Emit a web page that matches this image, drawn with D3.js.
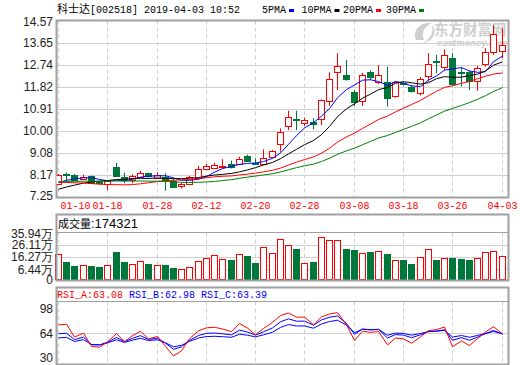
<!DOCTYPE html>
<html>
<head>
<meta charset="utf-8">
<script src="https://cdn.jsdelivr.net/npm/d3@7/dist/d3.min.js"></script>
<style>
body{margin:0;background:#fff}
svg{display:block}
</style>
</head>
<body>
<svg id="chart" width="520" height="365"></svg>
<script>
// trading days 2019-01-10 .. 2019-04-03
var dates = ["01-10","01-11","01-14","01-15","01-16","01-17","01-18","01-21","01-22","01-23",
	"01-24","01-25","01-28","01-29","01-30","01-31","02-01","02-11","02-12","02-13",
	"02-14","02-15","02-18","02-19","02-20","02-21","02-22","02-25","02-26","02-27",
	"02-28","03-01","03-04","03-05","03-06","03-07","03-08","03-11","03-12","03-13",
	"03-14","03-15","03-18","03-19","03-20","03-21","03-22","03-25","03-26","03-27",
	"03-28","03-29","04-01","04-02","04-03"];

var opens = [7.78,8.21,8.18,8.00,8.12,7.86,7.78,8.51,8.09,7.96,
	8.09,8.23,8.07,8.09,7.93,7.71,7.78,8.03,8.41,8.47,
	8.53,8.62,8.63,8.95,8.68,8.62,8.92,9.45,10.20,10.50,
	10.35,10.38,10.48,11.21,12.44,12.33,11.62,11.20,12.43,12.04,
	12.04,11.41,12.00,11.83,11.56,12.25,12.90,12.64,13.01,12.43,
	12.42,12.07,12.77,13.28,13.33];
var highs = [8.20,8.27,8.20,8.18,8.14,7.92,7.93,8.67,8.26,8.19,
	8.34,8.26,8.28,8.23,8.01,7.84,8.12,8.55,8.62,8.67,
	8.82,8.76,8.92,9.01,8.85,9.23,9.20,10.10,10.83,10.83,
	10.55,10.52,11.30,12.43,13.22,12.94,11.70,12.40,12.50,12.73,
	12.66,12.05,12.02,11.90,12.23,13.22,13.15,13.38,13.22,12.62,
	12.50,12.70,13.43,14.39,14.25];
var lows = [7.76,7.90,7.97,7.95,7.80,7.76,7.54,8.09,7.82,7.82,
	8.07,8.05,8.05,7.51,7.62,7.61,7.76,8.00,8.37,8.44,
	8.44,8.44,8.59,8.72,8.58,8.60,8.90,9.13,10.03,10.03,
	10.20,10.06,10.24,11.03,11.69,12.08,11.03,11.03,12.10,11.94,
	11.00,11.38,11.87,11.58,11.47,12.04,12.39,12.50,11.86,11.83,
	11.69,11.66,12.66,13.15,13.01];
var closes = [8.16,8.19,7.99,8.10,7.82,7.80,7.91,8.12,7.96,8.12,
	8.26,8.12,8.18,7.98,7.68,7.78,8.09,8.40,8.55,8.58,
	8.55,8.51,8.83,8.76,8.65,8.86,9.17,9.94,10.56,10.45,
	10.46,10.28,11.28,12.14,12.69,12.17,11.21,12.30,12.22,12.32,
	11.39,12.01,11.95,11.66,12.14,12.76,12.87,13.15,11.94,12.40,
	12.04,12.60,13.28,14.02,13.56];
// volume, in 万 shares
var volumes = [18.4,12.3,9.1,9.6,9.1,8.3,9.6,20.3,12.3,10.7,
	12.8,10.7,9.6,9.6,7.5,6.5,8.1,12.8,15.2,17.6,
	14.4,13.9,18.4,17.1,11.7,24.0,19.2,30.4,25.6,22.6,
	11.5,12.3,32.0,29.6,29.6,22.6,21.8,19.2,20.3,20.8,
	18.7,13.6,13.9,10.7,16.0,22.4,13.9,15.2,15.5,14.7,
	13.9,15.2,20.0,20.8,17.4321];
// closes before 01-10, only used to warm up the averages
var priorCloses = [7.95,7.95,7.90,7.85,7.80,7.85,7.90,8.00,8.10,8.20,
	8.30,8.30,8.25,8.30,8.30,8.25,8.20,8.10,7.90,7.60,
	7.25,7.20,7.25,7.35,7.45,7.67,7.72,7.85,7.80];

var priceTicks = [7.25,8.17,9.08,10.00,10.91,11.82,12.74,13.65,14.57];
var volTicks = [6.44,16.27,26.11,35.94];
var rsiTicks = [30,64,98];
var dateTicks = ["01-10","01-18","01-28","02-12","02-20","02-28","03-08","03-18","03-26","04-03"];
var rsiLast = [63.08,62.98,63.39];

var maDefs = [{n:5,name:"5PMA",color:"#0000ff"},{n:10,name:"10PMA",color:"#000000"},
	{n:20,name:"20PMA",color:"#ff0000"},{n:30,name:"30PMA",color:"#008000"}];

var UP = "#ff0000", DOWN = "#00773a", GRID = "#d0d0d0", BORDER = "#a0a0a0";
var L = 56.5, R = 508.5;

var svg = d3.select("#chart");
var n = closes.length;
var all = priorCloses.concat(closes);
var off = priorCloses.length;

var x = d3.scaleBand().domain(d3.range(n)).range([53.9, 505.8]);
function cx(i){ return Math.round(x(i) + x.bandwidth()/2) + 0.5; }

var yP = d3.scaleLinear().domain([7.25, 14.57]).range([197, 20.7]);
var yV = d3.scaleLinear().domain([0, 35.94]).range([277.5, 232.3]);
var yR = d3.scaleLinear().domain([30, 98]).range([357.6, 309]);

function movingAvg(len)
{
	return closes.map(function(c, i)
	{
		var k = off + i;
		return d3.mean(all.slice(k - len + 1, k + 1));
	});
}

function rsi(len)
{
	var up = null, tot = null, out = [];
	for (var k = 1; k < all.length; k++)
	{
		var d = all[k] - all[k-1];
		up = up === null ? Math.max(d,0) : (Math.max(d,0) + (len-1)*up)/len;
		tot = tot === null ? Math.abs(d) : (Math.abs(d) + (len-1)*tot)/len;
		if (k >= off) out.push(tot ? up/tot*100 : 50);
	}
	return out;
}

var tickIdx = dateTicks.map(function(d){ return dates.indexOf(d); });

function clip(id, y0, y1)
{
	svg.append("clipPath").attr("id", id).append("rect")
		.attr("x", L).attr("y", y0).attr("width", R - L).attr("height", y1 - y0);
}

function vgrid(g, y0, y1)
{
	g.selectAll("line.vg").data(tickIdx).enter().append("line").classed("vg",1)
		.attr("x1", function(d){ return cx(d); }).attr("x2", function(d){ return cx(d); })
		.attr("y1", y0).attr("y2", y1)
		.attr("stroke", GRID).attr("stroke-dasharray", "4,3");
}

function hline(g, y, color)
{
	g.append("line").attr("x1", L).attr("x2", R).attr("y1", y).attr("y2", y).attr("stroke", color);
}

function axisText(g, y, txt)
{
	g.append("text").attr("x", 53).attr("y", y).attr("dy", "0.35em")
		.attr("text-anchor", "end").attr("font-family", "Liberation Sans, Arial, sans-serif")
		.attr("font-size", "12px").attr("fill", "#222").text(txt);
}

// ---------- title + legend ----------
var title = svg.append("text").attr("x", 57).attr("y", 13).attr("fill", "#000");
title.append("tspan").attr("font-family", "Noto Sans CJK SC").attr("font-size", "11px").text("科士达");
title.append("tspan").attr("font-family", "Liberation Mono").attr("font-size", "10px").text("[002518] 2019-04-03 10:52");

var lx = [262, 301.5, 343, 386];
maDefs.forEach(function(m, i)
{
	var t = svg.append("text").attr("x", lx[i]).attr("y", 13)
		.attr("font-family", "Liberation Mono").attr("font-size", "10px").attr("fill", "#000").text(m.name);
	var w = t.node().getComputedTextLength();
	svg.append("rect").attr("x", lx[i] + w + 3).attr("y", 9).attr("width", 5).attr("height", 3).attr("fill", m.color);
});

// ---------- price panel ----------
var pTop = 20.5, pBot = 197.5;
var gp = svg.append("g");
priceTicks.forEach(function(t)
{
	var y = Math.round(yP(t)) + 0.5;
	if (y > pTop + 1 && y < pBot - 1) hline(gp, y, GRID);
	axisText(gp, Math.min(Math.max(yP(t), pTop + 1), pBot - 2), t.toFixed(2));
});
vgrid(gp, pTop, pBot);

// watermark
var wm = svg.append("g").attr("fill", "#cfcfcf");
wm.append("path").attr("d", "M416,40 C412,30 420,22 432,23 C424,27 421,33 424,40 Z M422,43 C430,40 434,32 432,25 C438,32 433,42 422,43 Z");
wm.append("text").attr("x", 434).attr("y", 35).attr("font-family", "Noto Sans CJK SC")
	.attr("font-weight", "bold").attr("font-size", "14.5px").text("东方财富网");
wm.append("text").attr("x", 437).attr("y", 46).attr("font-family", "DejaVu Sans")
	.attr("font-weight", "bold").attr("font-style", "italic").attr("font-size", "8px").text("eastmoney.com");

clip("clipP", pTop, pBot);
var gc = svg.append("g").attr("clip-path", "url(#clipP)");
var idx = d3.range(n);
var isUp = function(i){ return closes[i] >= opens[i]; };

gc.selectAll("line.wick").data(idx).enter().append("line").classed("wick",1)
	.attr("x1", cx).attr("x2", cx)
	.attr("y1", function(i){ return yP(highs[i]); })
	.attr("y2", function(i){ return yP(lows[i]); })
	.attr("stroke", function(i){ return isUp(i) ? UP : DOWN; });

gc.selectAll("rect.body").data(idx).enter().append("rect").classed("body",1)
	.attr("x", function(i){ return cx(i) - 3; })
	.attr("width", 6)
	.attr("y", function(i){ return Math.round(yP(Math.max(opens[i], closes[i]))) + 0.5; })
	.attr("height", function(i){ return Math.max(1, Math.round(yP(Math.min(opens[i], closes[i])) - yP(Math.max(opens[i], closes[i])))); })
	.attr("fill", function(i){ return isUp(i) ? "#fff" : DOWN; })
	.attr("stroke", function(i){ return isUp(i) ? UP : DOWN; });

var line = d3.line().x(function(d, i){ return cx(i); }).y(function(d){ return yP(d); });
maDefs.forEach(function(m)
{
	gc.append("path").datum(movingAvg(m.n)).attr("d", line)
		.attr("fill", "none").attr("stroke", m.color).attr("stroke-width", 1);
});

gp.append("rect").attr("x", L).attr("y", pTop).attr("width", R - L).attr("height", pBot - pTop)
	.attr("fill", "none").attr("stroke", BORDER).attr("stroke-width", 2);

// date labels
svg.selectAll("text.date").data(tickIdx).enter().append("text").classed("date",1)
	.attr("x", function(d, i){ return i === 0 ? cx(d) + 2 : cx(d); })
	.attr("y", 209)
	.attr("text-anchor", function(d, i){ return i === 0 ? "start" : "middle"; })
	.attr("font-family", "Liberation Mono").attr("font-size", "10px").attr("fill", "#ff0000")
	.text(function(d){ return dates[d]; });

// ---------- volume panel ----------
var vTop = 214.5, vHead = 232.5, vBot = 280.5;
var gv = svg.append("g");
volTicks.forEach(function(t)
{
	var y = Math.round(yV(t)) + 0.5;
	if (y > vHead + 1) hline(gv, y, GRID);
	axisText(gv, Math.max(yV(t), vHead + 1), t.toFixed(2) + "万");
});
axisText(gv, vBot - 0.5, "0");
vgrid(gv, vHead, vBot);

gv.selectAll("rect.vol").data(idx).enter().append("rect").classed("vol",1)
	.attr("x", function(i){ return cx(i) - 3; })
	.attr("width", 6)
	.attr("y", function(i){ return Math.round(yV(volumes[i])) + 0.5; })
	.attr("height", function(i){ return vBot - 1 - (Math.round(yV(volumes[i])) + 0.5); })
	.attr("fill", function(i){ return isUp(i) ? "#fff" : DOWN; })
	.attr("stroke", function(i){ return isUp(i) ? UP : DOWN; });

hline(gv, vHead, BORDER);
gv.append("rect").attr("x", L).attr("y", vTop).attr("width", R - L).attr("height", vBot - vTop)
	.attr("fill", "none").attr("stroke", BORDER).attr("stroke-width", 2);
var vt = gv.append("text").attr("x", 58).attr("y", 228).attr("fill", "#000");
vt.append("tspan").attr("font-family", "Noto Sans CJK SC").attr("font-size", "11px").text("成交量");
vt.append("tspan").attr("font-family", "Liberation Sans").attr("font-size", "13px")
	.text(":" + Math.round(volumes[n-1] * 10000));

// ---------- RSI panel ----------
var rTop = 287.5, rHead = 301.5, rBot = 364.5;
var gr = svg.append("g");
hline(gr, Math.round(yR(64)) + 0.5, GRID);
rsiTicks.forEach(function(t){ axisText(gr, yR(t), String(t)); });
vgrid(gr, rHead, rBot);

clip("clipR", rHead, rBot);
var grc = svg.append("g").attr("clip-path", "url(#clipR)");
var rline = d3.line().x(function(d, i){ return cx(i); }).y(function(d){ return yR(d); });
[{n:24,c:"#0000ff"},{n:12,c:"#0000ff"},{n:6,c:"#ff0000"}].forEach(function(r)
{
	grc.append("path").datum(rsi(r.n)).attr("d", rline)
		.attr("fill", "none").attr("stroke", r.c).attr("stroke-width", 1);
});

hline(gr, rHead, BORDER);
gr.append("rect").attr("x", L).attr("y", rTop).attr("width", R - L).attr("height", rBot - rTop)
	.attr("fill", "none").attr("stroke", BORDER).attr("stroke-width", 2);

var rt = gr.append("text").attr("x", 57).attr("y", 298)
	.attr("font-family", "Liberation Mono").attr("font-size", "10px");
["RSI_A","RSI_B","RSI_C"].forEach(function(s, i)
{
	rt.append("tspan").attr("fill", i === 0 ? "#ff0000" : "#0000ff")
		.text((i ? " " : "") + s + ":" + rsiLast[i].toFixed(2));
});
</script>
</body>
</html>
